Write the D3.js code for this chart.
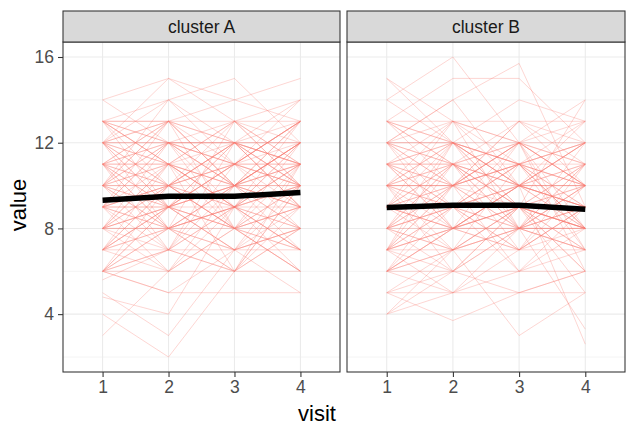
<!DOCTYPE html>
<html><head><meta charset="utf-8">
<script src="https://cdn.jsdelivr.net/npm/d3@7"></script>
<style>body{margin:0;background:#fff}svg{display:block}</style>
</head><body>
<script>
const visits = [1, 2, 3, 4];
const clusters = ["cluster A", "cluster B"];
const yTicks = [4, 8, 12, 16];
const yMinor = [2, 6, 10, 14];

const subjectsA = [
[14,15,13,14],[13,14,15,12],[12,13,14,15],[6,5,5,5],[3,6,8,7],[4,2,6,9],[5,3,7,8],[4.8,4,9,6],
[6,6,6,6],[13,13,13,13],[12,12,12,12],[11,11,11,11],[10,10,10,10],[9,9,9,9],[8,8,8,8],[7,7,7,7],
[6,8,10,12],[13,11,9,7],[7,9,11,13],[12,10,8,6],[9,12,10,13],[10,7,12,9],[8,11,6,10],[11,8,13,10],
[7,10,9,12],[12,9,11,8],[10,13,8,11],[9,6,10,7],[6,9,7,11],[13,10,12,9],[8,6,9,11],[11,13,10,12],
[10,8,7,9],[7,11,8,6],[9,10,12,11],[12,11,9,13],[8,9,11,10],[11,12,8,9],[6,7,9,8],[13,12,11,14],
[10,11,13,12],[9,8,6,10],[7,6,8,9],[12,14,11,10],[8,10,12,14],[11,9,7,8],[10,12,9,7],[9,11,13,10],
[6,8,7,10],[13,11,12,11],[7,9,10,8],[12,13,10,11],[8,7,10,12],[11,10,11,13],[10,9,8,6],[9,13,11,12],
[14,12,10,11],[6,10,8,9],[5.6,7,6,8],[12,8,9,10],[10,14,12,13],[8,12,10,9],[11,7,9,11],[9,7,11,13],
[7,8,6,11],[13,9,10,12],[10,11,9,8],[12,10,13,11],[8,10,9,7],[11,12,12,10],[6,5,7,5],[12,15,14,13],
[9,10,8,10],[11,9,10,12],[8,8,9,11],[10,12,11,9],[12,11,10,12],[7,8,9,10],[13,12,13,11],[9,10,11,13],
[11,13,12,10],[10,9,11,11],[8,9,7,8],[6,7,6,8],[12,12,11,13],[9,8,10,9],[7,9,8,7],[10,10,12,11],
[11,8,9,12],[13,11,10,13],[8,11,10,8],[9,12,12,10],[10,8,10,9],[12,9,12,11],[7,10,11,10],[11,11,9,10],
[6,9,10,11],[9,9,8,12],[10,13,10,10],[8,9,12,9],[13,13,12,12],[11,10,8,10]
];
const subjectsB = [
[15,13,12,11],[14,16,12,10],[13,15,15,12],[12,14,15.7,9],[4,5,6,7],[5,3.7,5,6],[4,7,3,5],[6,8,10,2.6],
[7,5,8,3.3],[13,13,13,13],[12,12,12,12],[11,11,11,11],[10,10,10,10],[9,9,9,9],[8,8,8,8],[7,7,7,7],
[6,6,6,6],[5,5,5,5],[13,11,9,14],[12,14,10,8],[11,9,12,13],[10,12,8,11],[9,7,11,10],[8,10,6,9],
[7,9,11,12],[6,8,7,10],[5,7,9,8],[12,10,13,11],[11,13,10,9],[10,8,12,7],[9,11,8,12],[8,6,9,11],
[7,10,12,6],[6,9,8,7],[13,12,11,10],[12,9,10,13],[11,10,13,12],[10,13,11,8],[9,12,10,11],[8,11,7,9],
[7,8,10,12],[6,7,9,5],[5,6,8,10],[14,12,11,13],[11,8,9,7],[10,11,9,6],[9,10,12,8],[8,9,11,12],
[7,6,8,9],[12,11,8,10],[11,12,9,8],[10,9,7,11],[9,8,10,12],[8,7,9,6],[7,11,10,9],[6,10,12,11],
[13,10,9,8],[12,13,12,14],[10,7,8,9],[9,11,13,10],[8,12,9,7],[11,9,6,8],[6,5,7,9],[7,12,11,10],
[10,6,9,8],[9,13,8,11],[12,8,10,9],[4,6,5,6],[15,12,14,13],
[8,9,8,10],[10,11,10,9],[9,8,9,8],[11,10,12,10],[7,8,8,7],[12,12,10,11],[8,10,11,8],[10,9,9,10],
[9,10,11,9],[11,11,10,12],[6,8,9,8],[13,11,12,10],[7,9,7,8],[10,12,10,10],[8,7,8,9],[12,10,11,12],
[9,9,10,8],[11,12,11,9],[7,8,9,11],[10,10,8,8],[8,11,9,10],[9,9,11,7],[12,11,12,10],[6,7,8,7],
[11,8,10,10],[8,9,10,9],[10,10,11,8],[13,12,10,12],[7,10,8,8],[9,8,7,9]
];
const meanA = [9.32, 9.5, 9.5, 9.68];
const meanB = [8.98, 9.08, 9.08, 8.9];

const W = 637, H = 430;
const svg = d3.select("body").append("svg").attr("width", W).attr("height", H)
  .style("font-family", "'Liberation Sans', Arial, sans-serif");

const panelTop = 42, panelBottom = 372, stripTop = 11;
const panels = [
  {name: clusters[0], x0: 63, x1: 340, subjects: subjectsA, mean: meanA},
  {name: clusters[1], x0: 347, x1: 625, subjects: subjectsB, mean: meanB}
];
const y = d3.scaleLinear().domain([1.3, 16.7]).range([panelBottom, panelTop]);

panels.forEach((p, i) => {
  const x = d3.scalePoint().domain(visits).range([p.x0, p.x1]).padding(0.6);
  const g = svg.append("g");
  const cid = "clip" + i;
  svg.append("clipPath").attr("id", cid).append("rect")
    .attr("x", p.x0).attr("y", panelTop).attr("width", p.x1 - p.x0).attr("height", panelBottom - panelTop);
  g.selectAll(".ymin").data(yMinor).join("line")
    .attr("x1", p.x0).attr("x2", p.x1).attr("y1", d => y(d)).attr("y2", d => y(d))
    .attr("stroke", "#EBEBEB").attr("stroke-width", 0.55);
  g.selectAll(".ymaj").data(yTicks).join("line")
    .attr("x1", p.x0).attr("x2", p.x1).attr("y1", d => y(d)).attr("y2", d => y(d))
    .attr("stroke", "#EBEBEB").attr("stroke-width", 1.07);
  g.selectAll(".xmaj").data(visits).join("line")
    .attr("x1", d => x(d)).attr("x2", d => x(d)).attr("y1", panelTop).attr("y2", panelBottom)
    .attr("stroke", "#EBEBEB").attr("stroke-width", 1.07);
  const line = d3.line().x((d, k) => x(visits[k])).y(d => y(d));
  const data = g.append("g").attr("clip-path", `url(#${cid})`);
  data.selectAll(".subj").data(p.subjects).join("path")
    .attr("d", line).attr("fill", "none").attr("stroke", "#F8766D")
    .attr("stroke-opacity", 0.3).attr("stroke-width", 1);
  data.append("path").attr("d", line(p.mean)).attr("fill", "none")
    .attr("stroke", "#000").attr("stroke-width", 5.5);
  g.append("rect").attr("x", p.x0).attr("y", panelTop).attr("width", p.x1 - p.x0)
    .attr("height", panelBottom - panelTop).attr("fill", "none").attr("stroke", "#333333").attr("stroke-width", 1.07);
  g.append("rect").attr("x", p.x0).attr("y", stripTop).attr("width", p.x1 - p.x0)
    .attr("height", panelTop - stripTop).attr("fill", "#D9D9D9").attr("stroke", "#333333").attr("stroke-width", 1.07);
  g.append("text").attr("x", (p.x0 + p.x1) / 2).attr("y", (stripTop + panelTop) / 2 + 6)
    .attr("text-anchor", "middle").attr("font-size", 17.5).attr("fill", "#1A1A1A").text(p.name);
  const xa = svg.append("g").attr("transform", `translate(0,${panelBottom})`)
    .call(d3.axisBottom(x).tickSize(5).tickPadding(4));
  xa.select(".domain").remove();
  xa.selectAll("line").attr("stroke", "#333333").attr("stroke-width", 1.07);
  xa.selectAll("text").attr("font-size", 17.5).attr("fill", "#4D4D4D")
    .style("font-family", "'Liberation Sans', Arial, sans-serif");
});

const ya = svg.append("g").attr("transform", `translate(63,0)`)
  .call(d3.axisLeft(y).tickValues(yTicks).tickSize(5).tickPadding(4));
ya.select(".domain").remove();
ya.selectAll("line").attr("stroke", "#333333").attr("stroke-width", 1.07);
ya.selectAll("text").attr("font-size", 17.5).attr("fill", "#4D4D4D")
  .style("font-family", "'Liberation Sans', Arial, sans-serif");

svg.append("text").attr("x", 317).attr("y", 421).attr("text-anchor", "middle")
  .attr("font-size", 22).attr("fill", "#000").text("visit");
svg.append("text").attr("transform", "translate(26,205) rotate(-90)").attr("text-anchor", "middle")
  .attr("font-size", 22).attr("fill", "#000").text("value");
</script>
</body></html>
